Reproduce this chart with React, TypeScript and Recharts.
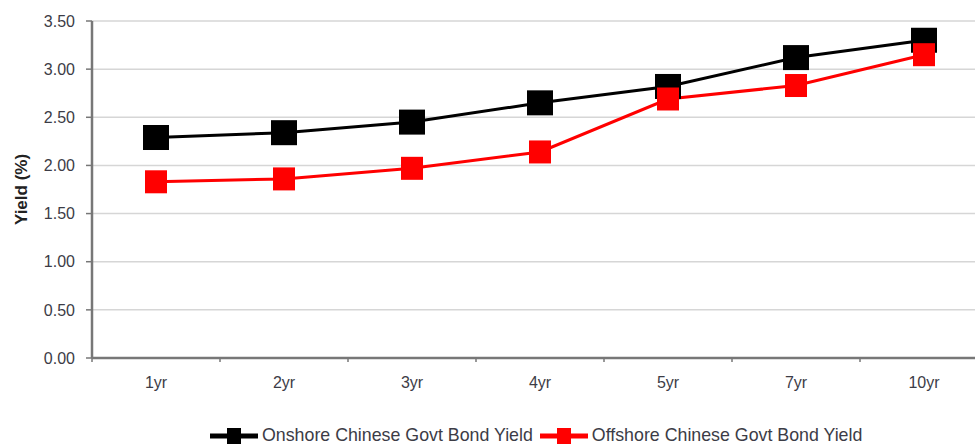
import React from "react";
import { LineChart, Line, XAxis, YAxis, CartesianGrid, Legend } from "recharts";

// Tenors along the curve
const tenors = ["1yr", "2yr", "3yr", "4yr", "5yr", "7yr", "10yr"];

// Yields in percent
const onshoreYield = [2.29, 2.34, 2.45, 2.65, 2.82, 3.12, 3.3];
const offshoreYield = [1.83, 1.86, 1.97, 2.14, 2.69, 2.83, 3.15];

// Y-axis tick values
const yTicks = [0, 0.5, 1, 1.5, 2, 2.5, 3, 3.5];

const ONSHORE_NAME = "Onshore Chinese Govt Bond Yield";
const OFFSHORE_NAME = "Offshore Chinese Govt Bond Yield";

// Each tenor sits in the middle of its own band on a numeric axis [0, n]
const data = tenors.map((t, i) => ({
  x: i + 0.5,
  tenor: t,
  onshore: onshoreYield[i],
  offshore: offshoreYield[i],
}));

// Band edges get tick marks, band centres get the tenor labels
const xTicks: number[] = [];
for (let i = 0; i <= tenors.length; i++) {
  xTicks.push(i);
  if (i < tenors.length) xTicks.push(i + 0.5);
}

const TEXT_COLOR = "#3c3c46";
const AXIS_COLOR = "#777777";
const FONT = "'Liberation Sans', Arial, sans-serif";

const XTick = (props: any) => {
  const { x, y, payload } = props;
  const v = payload.value as number;
  const axisY = y - 5;
  if (Number.isInteger(v)) {
    return <line x1={x} y1={axisY} x2={x} y2={axisY + 4} stroke={AXIS_COLOR} strokeWidth={1.5} />;
  }
  const label = tenors[Math.floor(v)];
  return (
    <text x={x} y={axisY + 30} textAnchor="middle" fill={TEXT_COLOR} fontSize={16} fontFamily={FONT}>
      {label}
    </text>
  );
};

const squareDot = (size: number, color: string, h?: number) => (props: any) => {
  const { cx, cy, index } = props;
  const hh = h ?? size;
  return <rect key={index} x={cx - size / 2} y={cy - hh / 2} width={size} height={hh} fill={color} />;
};

const LegendIcon = ({ color }: { color: string }) => (
  <svg width={48} height={18} style={{ display: "block" }}>
    <line x1={0} y1={9} x2={48} y2={9} stroke={color} strokeWidth={5} />
    <rect x={17} y={1} width={14} height={16} fill={color} />
  </svg>
);

const renderLegend = () => (
  <div
    style={{
      display: "flex",
      alignItems: "center",
      fontFamily: FONT,
      fontSize: 17.8,
      color: TEXT_COLOR,
      whiteSpace: "nowrap",
    }}
  >
    <LegendIcon color="#000000" />
    <span style={{ marginLeft: 4, marginRight: 7 }}>{ONSHORE_NAME}</span>
    <LegendIcon color="#ff0000" />
    <span style={{ marginLeft: 4 }}>{OFFSHORE_NAME}</span>
  </div>
);

const YLabel = (props: any) => {
  const vb = props.viewBox || { x: 0, y: 21, width: 92, height: 337 };
  const cx = 21;
  const cy = vb.y + vb.height / 2;
  return (
    <text
      x={cx}
      y={cy}
      transform={`rotate(-90, ${cx}, ${cy})`}
      textAnchor="middle"
      dominantBaseline="central"
      fontFamily={FONT}
      fontWeight="bold"
      fontSize={17}
      fill="#222"
    >
      Yield (%)
    </text>
  );
};

export default function App() {
  return (
    <div
      style={{
        position: "absolute",
        left: 0,
        top: 0,
        width: 975,
        height: 445,
        overflow: "hidden",
        background: "#ffffff",
      }}
    >
      <LineChart
        width={1000}
        height={445}
        data={data}
        margin={{ top: 21, right: 12, bottom: 0, left: 0 }}
      >
        <CartesianGrid vertical={false} stroke="#d6d6d6" strokeWidth={1.5} />
        <XAxis
          dataKey="x"
          type="number"
          domain={[0, tenors.length]}
          ticks={xTicks}
          interval={0}
          tick={<XTick />}
          tickLine={false}
          tickSize={5}
          tickMargin={0}
          height={65}
          stroke={AXIS_COLOR}
          axisLine={{ stroke: AXIS_COLOR, strokeWidth: 2.5 }}
        />
        <YAxis
          domain={[0, 3.5]}
          ticks={yTicks}
          interval={0}
          width={92}
          tickSize={6}
          tickMargin={11}
          tickFormatter={(v: number) => v.toFixed(2)}
          tick={{ fill: TEXT_COLOR, fontSize: 16, fontFamily: FONT }}
          stroke={AXIS_COLOR}
          axisLine={{ stroke: AXIS_COLOR, strokeWidth: 2.5 }}
          tickLine={{ stroke: AXIS_COLOR, strokeWidth: 1.5 }}
          label={<YLabel />}
        />
        <Legend
          content={renderLegend}
          wrapperStyle={{ position: "absolute", left: 210, top: 425, width: 700, height: 22 }}
        />
        <Line
          dataKey="onshore"
          name={ONSHORE_NAME}
          stroke="#000000"
          strokeWidth={3}
          dot={squareDot(26, "#000000", 25)}
          activeDot={false}
          isAnimationActive={false}
        />
        <Line
          dataKey="offshore"
          name={OFFSHORE_NAME}
          stroke="#ff0000"
          strokeWidth={3}
          dot={squareDot(22, "#ff0000", 23)}
          activeDot={false}
          isAnimationActive={false}
        />
      </LineChart>
    </div>
  );
}
